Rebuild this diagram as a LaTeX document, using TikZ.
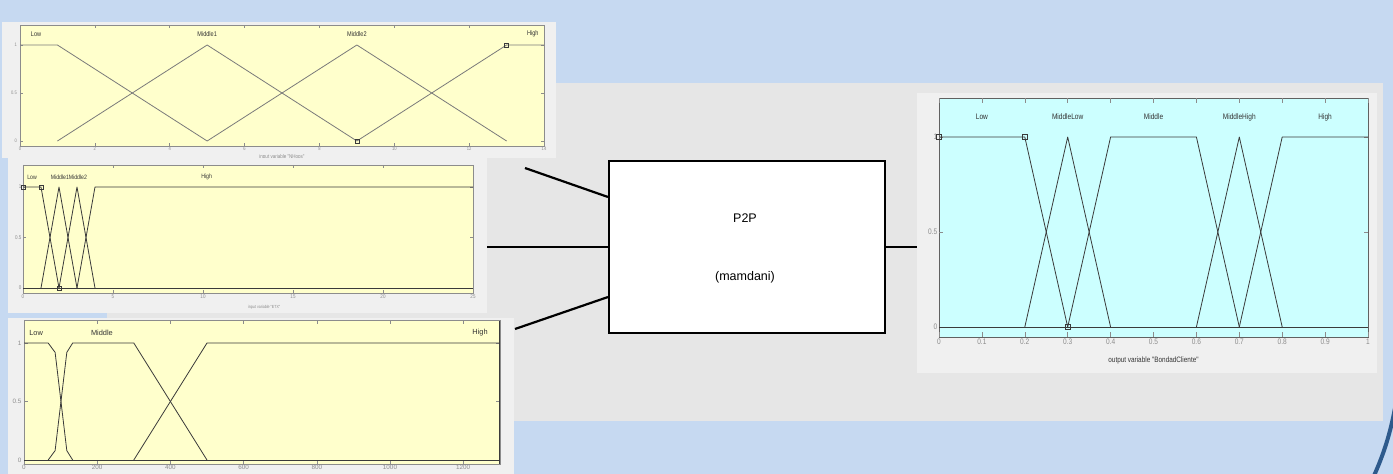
\documentclass[tikz,border=0pt]{standalone}
\usepackage{fontspec}
\setmainfont{Liberation Sans}
\newfontfamily\narrowsans[FakeStretch=0.82]{Liberation Sans}
\usetikzlibrary{calc}
\definecolor{bgblue}{HTML}{C6D9F1}
\definecolor{panelgray}{HTML}{E6E6E6}
\definecolor{framegray}{HTML}{F0F0F0}
\definecolor{plotyellow}{HTML}{FFFFCC}
\definecolor{plotcyan}{HTML}{CCFFFF}
\definecolor{arcblue}{HTML}{2E5A8C}
\definecolor{tickgray}{HTML}{8C8C8C}
\definecolor{mfdark}{HTML}{3A3A3A}
\definecolor{mflight}{HTML}{7A7A7A}
\definecolor{labeldark}{HTML}{333333}

\tikzset{
  plotframe/.style={fill=framegray, draw=none},
  yellowplot/.style={fill=plotyellow, draw=tickgray, line width=0.6pt},
  cyanplot/.style={fill=plotcyan, draw=mfdark!80, line width=0.6pt},
  mfline/.style={draw=mfdark, line width=0.8pt, line join=round},
  mflightline/.style={draw=mflight, line width=0.8pt, line join=round},
  axtick/.style={draw=tickgray, line width=0.5pt},
  sqm/.style={draw=mfdark, line width=0.5pt},
  ticklab/.style={text=tickgray, inner sep=1pt, font=\narrowsans\fontsize{#1}{#1}\selectfont},
  mflab/.style={text=labeldark, inner sep=0pt, font=\narrowsans\fontsize{#1}{#1}\selectfont},
  wideticklab/.style={text=tickgray, inner sep=1pt, font=\fontsize{#1}{#1}\selectfont},
  widemflab/.style={text=labeldark, inner sep=0pt, font=\fontsize{#1}{#1}\selectfont},
  fisbox/.style={draw=black, fill=white, line width=2pt, minimum width=276pt, minimum height=172pt},
  fistext/.style={inner sep=0pt, font=\fontsize{12.5}{13}\selectfont},
  wire/.style={draw=black, line width=2.2pt}
}

\begin{document}
\begin{tikzpicture}[x=1pt, y=-1pt]
\useasboundingbox (0,0) rectangle (1393,474);
% backdrop
\fill[bgblue] (0,0) rectangle (1393,474);
\fill[panelgray] (107,83) rectangle (1383,421);

% ---------------- input 1: NHops ----------------
\fill[plotframe] (2,22) rectangle (556,158);
\begin{scope}[xshift=20pt, yshift=-141pt, x=37.43pt, y=96pt]
  \draw[yellowplot] (0,-0.052) rectangle (14,1.208);
  \foreach \k in {0,2,...,14} {
    \draw[axtick] (\k,-0.052) -- ++(0,0.035);
    \draw[axtick] (\k,1.208) -- ++(0,-0.035);
    \node[ticklab=5, below] (nhx\k) at (\k,-0.052) {\k};
  }
  \foreach \v/\n in {0/a,0.5/b,1/c} {
    \draw[axtick] (0,\v) -- ++(0.09,0);
    \draw[axtick] (14,\v) -- ++(-0.09,0);
    \node[ticklab=5, left, xshift=-2pt] (nhy\n) at (0,\v) {\v};
  }
  \draw[mflightline] (0,1) -- (1,1) -- (5,0);
  \draw[mflightline] (1,0) -- (5,1) -- (9,0);
  \draw[mflightline] (5,0) -- (9,1) -- (13,0);
  \draw[mflightline] (9,0) -- (13,1) -- (14,1);
  \draw[sqm] (13,1) +(-2pt,-2pt) rectangle +(2pt,2pt);
  \draw[sqm] (9,0) +(-2pt,-2pt) rectangle +(2pt,2pt);
  \node[mflab=6.8] (nhlow) at (0.43,1.115) {Low};
  \node[mflab=6.8] (nhm1) at (5,1.115) {Middle1};
  \node[mflab=6.8] (nhm2) at (9,1.115) {Middle2};
  \node[mflab=6.8] (nhhigh) at (13.7,1.115) {High};
  \node[ticklab=5.5] (nhname) at (7,-0.17) {input variable "NHops"};
\end{scope}

% ---------------- input 2: ETX ----------------
\fill[plotframe] (8,158) rectangle (487,313);
\begin{scope}[xshift=23pt, yshift=-288pt, x=18pt, y=101pt]
  \draw[yellowplot] (0,-0.05) rectangle (25,1.218);
  \foreach \k in {0,5,...,25} {
    \draw[axtick] (\k,-0.05) -- ++(0,0.03);
    \draw[axtick] (\k,1.218) -- ++(0,-0.03);
    \node[ticklab=5.5, below] (etx\k) at (\k,-0.05) {\k};
  }
  \foreach \v/\n in {0/a,0.5/b,1/c} {
    \draw[axtick] (0,\v) -- ++(0.18,0);
    \draw[axtick] (25,\v) -- ++(-0.18,0);
    \node[ticklab=5.5, left, xshift=-0.5pt] (ety\n) at (0,\v) {\v};
  }
  \draw[mfline] (0,0) -- (25,0);
  \draw[mfline] (0,1) -- (1,1) -- (2,0);
  \draw[mfline] (1,0) -- (2,1) -- (3,0);
  \draw[mfline] (2,0) -- (3,1) -- (4,0);
  \draw[mfline] (3,0) -- (4,1) -- (25,1);
  \draw[sqm] (0,1) +(-2pt,-2pt) rectangle +(2pt,2pt);
  \draw[sqm] (1,1) +(-2pt,-2pt) rectangle +(2pt,2pt);
  \draw[sqm] (2,0) +(-2pt,-2pt) rectangle +(2pt,2pt);
  \node[mflab=6.3] (etlow) at (0.5,1.10) {Low};
  \node[mflab=6.3] (etmid) at (2.55,1.10) {Middle1Middle2};
  \node[mflab=6.3] (ethigh) at (10.2,1.10) {High};
  \node[ticklab=4.4] (etname) at (13.4,-0.19) {input variable "ETX"};
\end{scope}

% ---------------- input 3 ----------------
\fill[plotframe] (8,318) rectangle (514,474);
\begin{scope}[xshift=24pt, yshift=-460pt, x=0.366pt, y=117pt]
  \draw[yellowplot] (0,-0.034) rectangle (1300,1.19);
  \foreach \k in {0,200,...,1200} {
    \draw[axtick] (\k,-0.034) -- ++(0,0.03);
    \draw[axtick] (\k,1.19) -- ++(0,-0.03);
    \node[wideticklab=6.3, below] (bx\k) at (\k,-0.034) {\k};
  }
  \foreach \v/\n in {0/a,0.5/b,1/c} {
    \draw[axtick] (0,\v) -- ++(10,0);
    \draw[axtick] (1300,\v) -- ++(-10,0);
    \node[wideticklab=6.3, left, xshift=-1.5pt] (by\n) at (0,\v) {\v};
  }
  \draw[mfline] (1300,-0.034) -- (1300,1.19);
  \draw[mfline] (0,0) -- (1300,0);
  \draw[mfline] (0,1) -- (66,1) -- (85,0.92) -- (117,0.08) -- (133,0);
  \draw[mfline] (66,0) -- (85,0.08) -- (117,0.92) -- (133,1) -- (300,1) -- (500,0);
  \draw[mfline] (300,0) -- (500,1) -- (1300,1);
  \node[widemflab=7.4] (blow) at (33,1.085) {Low};
  \node[widemflab=7.4] (bmid) at (213,1.085) {Middle};
  \node[widemflab=7.4] (bhigh) at (1246,1.085) {High};
\end{scope}

% ---------------- output: BondadCliente ----------------
\fill[plotframe] (917,93) rectangle (1377,373);
\begin{scope}[xshift=939pt, yshift=-327pt, x=429pt, y=190pt]
  \draw[cyanplot] (0,-0.053) rectangle (1,1.205);
  \foreach \k in {0,1,...,10} {
    \draw[axtick] (\k/10,-0.053) -- ++(0,0.025);
    \draw[axtick] (\k/10,1.205) -- ++(0,-0.025);
  }
  \foreach \k/\t in {0/0,1/0.1,2/0.2,3/0.3,4/0.4,5/0.5,6/0.6,7/0.7,8/0.8,9/0.9,10/1} {
    \node[ticklab=8, below, yshift=-1pt] (ox\k) at (\k/10,-0.053) {\t};
  }
  \foreach \v/\n in {0/a,0.5/b,1/c} {
    \draw[axtick] (0,\v) -- ++(0.01,0);
    \draw[axtick] (1,\v) -- ++(-0.01,0);
    \node[ticklab=8, left, xshift=-0.5pt] (oy\n) at (0,\v) {\v};
  }
  \draw[mfline] (0,0) -- (1,0);
  \draw[mfline] (0,1) -- (0.2,1) -- (0.3,0);
  \draw[mfline] (0.2,0) -- (0.3,1) -- (0.4,0);
  \draw[mfline] (0.3,0) -- (0.4,1) -- (0.6,1) -- (0.7,0);
  \draw[mfline] (0.6,0) -- (0.7,1) -- (0.8,0);
  \draw[mfline] (0.7,0) -- (0.8,1) -- (1,1);
  \draw[sqm] (0,1) +(-2.5pt,-2.5pt) rectangle +(2.5pt,2.5pt);
  \draw[sqm] (0.2,1) +(-2.5pt,-2.5pt) rectangle +(2.5pt,2.5pt);
  \draw[sqm] (0.3,0) +(-2.5pt,-2.5pt) rectangle +(2.5pt,2.5pt);
  \node[mflab=8] (olow) at (0.1,1.105) {Low};
  \node[mflab=8] (omidlow) at (0.3,1.105) {MiddleLow};
  \node[mflab=8] (omid) at (0.5,1.105) {Middle};
  \node[mflab=8] (omidhigh) at (0.7,1.105) {MiddleHigh};
  \node[mflab=8] (ohigh) at (0.9,1.105) {High};
  \node[mflab=7.8] (oname) at (0.5,-0.175) {output variable "BondadCliente"};
\end{scope}

% ---------------- inference system ----------------
\node[fisbox] (fis) at (747,247) {};
\node[fistext] (fisname) at (745,218) {P2P};
\node[fistext] (fistype) at (745,277) {(mamdani)};

\coordinate (inA) at (525,168);
\coordinate (inB) at (487,247);
\coordinate (inC) at (515,329);
\coordinate (outR) at (917,247);
\coordinate (portA) at ($(fis.west)+(0,-50)$);
\coordinate (portC) at ($(fis.west)+(0,50)$);
\draw[wire] (inA) -- (portA);
\draw[wire] (inB) -- (fis.west);
\draw[wire] (inC) -- (portC);
\draw[wire] (fis.east) -- (outR);

% corner swoosh
\draw[arcblue, line width=4pt] (1373,478) .. controls (1381,460) and (1389,440) .. (1395,408);
\end{tikzpicture}
\end{document}
